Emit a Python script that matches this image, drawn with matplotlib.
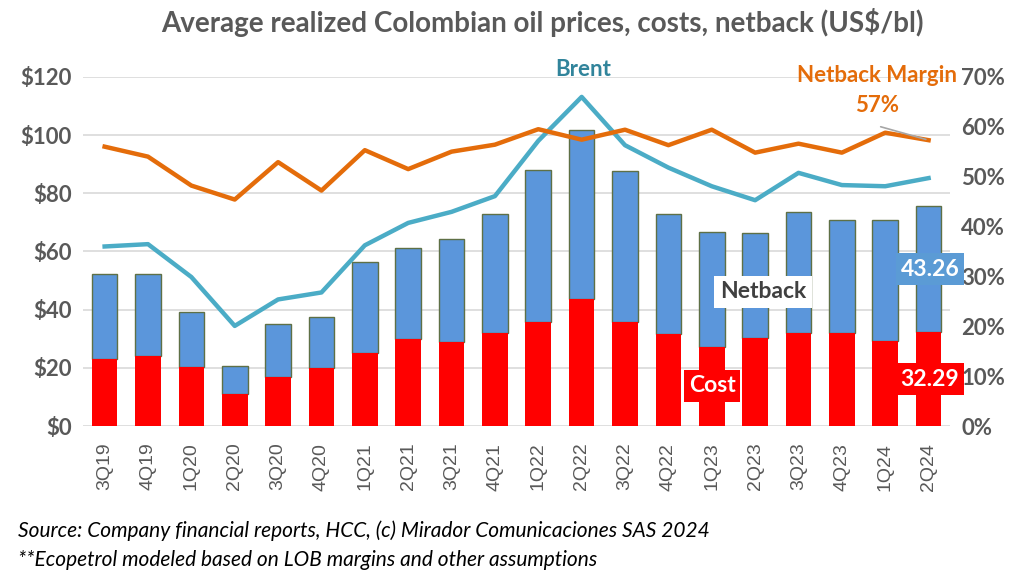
import matplotlib
matplotlib.use("Agg")
import matplotlib.pyplot as plt
from matplotlib.ticker import FuncFormatter

quarters = ["3Q19", "4Q19", "1Q20", "2Q20", "3Q20", "4Q20", "1Q21", "2Q21", "3Q21", "4Q21",
            "1Q22", "2Q22", "3Q22", "4Q22", "1Q23", "2Q23", "3Q23", "4Q23", "1Q24", "2Q24"]
cost = [22.9, 24.0, 20.3, 11.1, 16.9, 19.9, 25.1, 29.9, 28.9, 32.0,
        35.8, 43.5, 35.8, 31.5, 27.2, 30.3, 32.0, 32.0, 29.2, 32.29]
total_price = [52.3, 52.3, 39.2, 20.5, 35.1, 37.5, 56.2, 61.2, 64.3, 72.9,
               87.9, 101.7, 87.6, 73.0, 66.8, 66.5, 73.4, 70.7, 70.7, 75.55]
netback = [t - c for t, c in zip(total_price, cost)]
brent = [61.7, 62.5, 51.2, 34.4, 43.5, 45.9, 62.1, 69.8, 73.6, 79.0,
         98.0, 113.1, 96.5, 88.8, 82.4, 77.6, 87.0, 82.8, 82.4, 85.2]
margin = [0.560, 0.540, 0.482, 0.454, 0.529, 0.472, 0.553, 0.515, 0.550, 0.564,
          0.595, 0.574, 0.594, 0.563, 0.594, 0.548, 0.566, 0.548, 0.588, 0.573]

FONT = ["Lato", "DejaVu Sans"]
plt.rcParams["font.family"] = FONT
GREY = "#595959"
RED = "#FF0000"
BLUE = "#5B96DB"
TEAL = "#4BACC6"
ORANGE = "#E46C0A"

fig = plt.figure(figsize=(10.24, 5.82), dpi=100)
ax = fig.add_axes([0.081, 0.268, 0.847, 0.600])
x = list(range(len(quarters)))
w = 0.59
ax.bar(x, netback, width=w, bottom=cost, color=BLUE, edgecolor="#5E7046", linewidth=1.0, zorder=2)
ax.bar(x, cost, width=w, color=RED, zorder=2.1)
ax.plot(x, brent, color=TEAL, linewidth=3.2, zorder=3)

ax.set_ylim(0, 120)
ax.set_xlim(-0.5, len(quarters) - 0.5)
ax.set_yticks(range(0, 121, 20))
ax.yaxis.set_major_formatter(FuncFormatter(lambda v, p: f"${int(v)}"))
ax.grid(axis="y", color="#D9D9D9", linewidth=1.2, zorder=0)
ax.set_axisbelow(True)
for s in ax.spines.values():
    s.set_visible(False)
ax.tick_params(axis="both", length=0)
ax.tick_params(axis="y", labelsize=16, labelcolor=GREY, pad=8)
for lab in ax.get_yticklabels():
    lab.set_fontweight("bold")
ax.set_xticks(x)
ax.set_xticklabels(quarters, rotation=90, fontsize=14, color=GREY,
                   family=["Liberation Sans", "DejaVu Sans"])
ax.tick_params(axis="x", pad=12)

ax2 = ax.twinx()
ax2.plot(x, margin, color=ORANGE, linewidth=3.2, zorder=4)
ax2.set_ylim(0, 0.7)
ax2.set_yticks([i / 10 for i in range(8)])
ax2.yaxis.set_major_formatter(FuncFormatter(lambda v, p: f"{round(v * 100)}%"))
for s in ax2.spines.values():
    s.set_visible(False)
ax2.tick_params(axis="y", length=0, labelsize=16, labelcolor=GREY, pad=8)
for lab in ax2.get_yticklabels():
    lab.set_fontweight("bold")

fig.text(0.530, 0.962, "Average realized Colombian oil prices, costs, netback (US$/bl)",
         ha="center", va="center", fontsize=20, fontweight="bold", color=GREY)

# annotations
fig.text(583 / 1024, 1 - 70 / 582, "Brent", ha="center", va="center", fontsize=16,
         fontweight="bold", color="#31849B")
fig.text(877 / 1024, 1 - 76 / 582, "Netback Margin", ha="center", va="center", fontsize=16,
         fontweight="bold", color=ORANGE)
fig.text(877 / 1024, 1 - 105 / 582, "57%", ha="center", va="center", fontsize=16,
         fontweight="bold", color=ORANGE)
ax2.annotate("", xy=(19, margin[19]), xytext=(878 / 1024, 1 - 126 / 582),
             textcoords="figure fraction",
             arrowprops=dict(arrowstyle="-", color="#A6A6A6", lw=1.2), zorder=5)

fig.text(763 / 1024, 1 - 292 / 582, "Netback", ha="center", va="center", fontsize=16.5,
         fontweight="bold", color="#404040", zorder=6,
         bbox=dict(boxstyle="square,pad=0.25", fc="white", ec="none"))
fig.text(712 / 1024, 1 - 386 / 582, "Cost", ha="center", va="center", fontsize=16.5,
         fontweight="bold", color="white", zorder=6,
         bbox=dict(boxstyle="square,pad=0.22", fc=RED, ec="none"))
fig.text(930 / 1024, 1 - 269 / 582, f"{netback[-1]:.2f}", ha="center", va="center", fontsize=16.5,
         fontweight="bold", color="white", zorder=6,
         bbox=dict(boxstyle="square,pad=0.22", fc="#5B9BD5", ec="none"))
fig.text(930 / 1024, 1 - 379 / 582, f"{cost[-1]:.2f}", ha="center", va="center", fontsize=16.5,
         fontweight="bold", color="white", zorder=6,
         bbox=dict(boxstyle="square,pad=0.22", fc=RED, ec="none"))

fig.text(18 / 1024, 1 - 531 / 582,
         "Source: Company financial reports, HCC, (c) Mirador Comunicaciones SAS 2024",
         ha="left", va="center", fontsize=15, style="italic", color="black")
fig.text(18 / 1024, 1 - 560 / 582,
         "**Ecopetrol modeled based on LOB margins and other assumptions",
         ha="left", va="center", fontsize=15, style="italic", color="black")

fig.savefig("out.png", dpi=100)
